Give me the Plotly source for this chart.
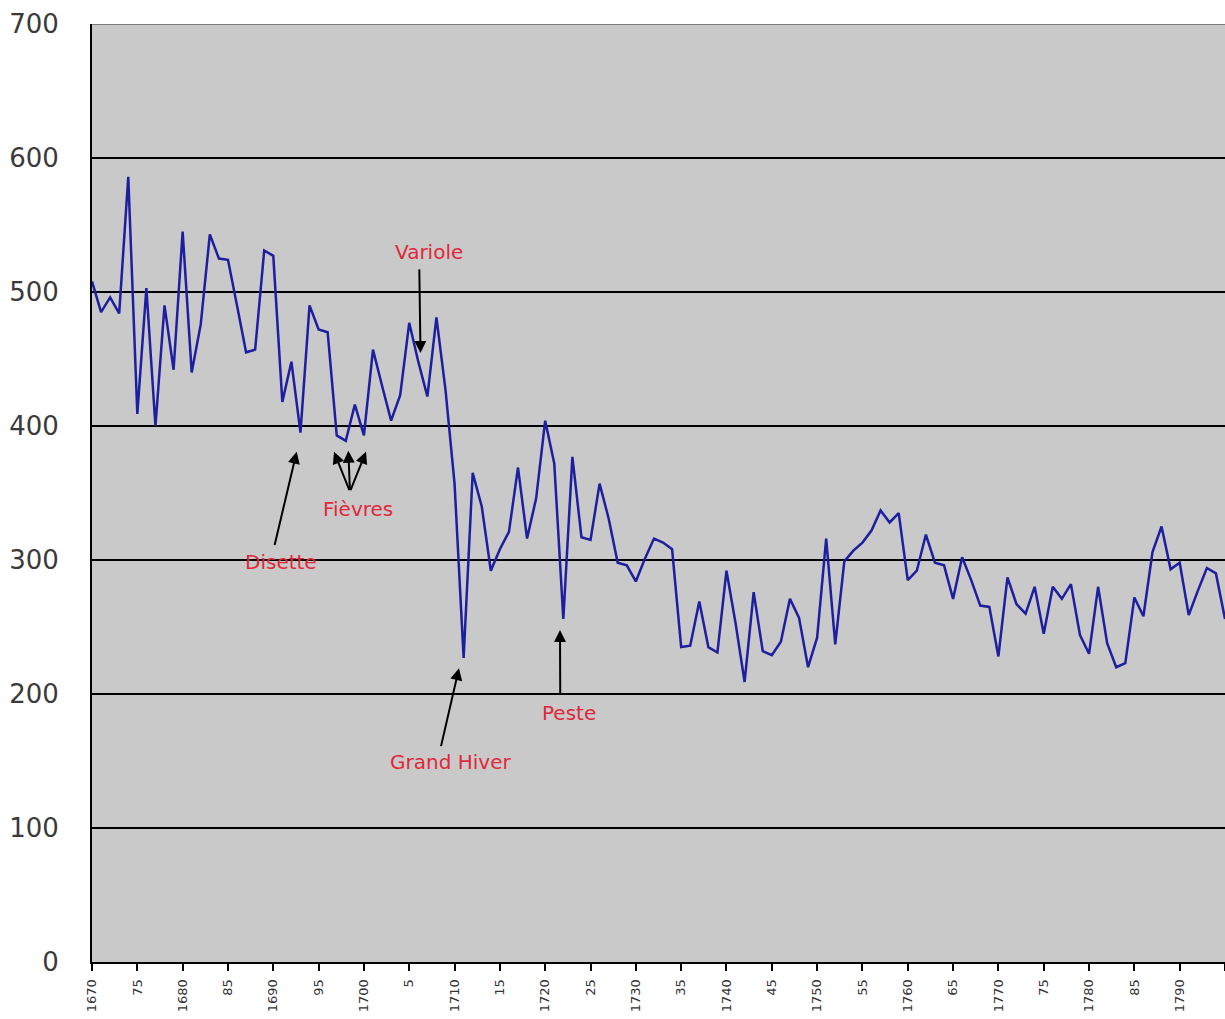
import plotly.graph_objects as go

years = list(range(1670, 1796))
values = [
    508, 485, 496, 484, 586, 409, 503, 400, 490, 442,   # 1670-1679
    545, 440, 476, 543, 525, 524, 490, 455, 457, 531,   # 1680-1689
    527, 418, 448, 395, 490, 472, 470, 393, 389, 416,   # 1690-1699
    393, 457, 430, 404, 423, 477, 448, 422, 481, 427,   # 1700-1709
    357, 227, 365, 340, 292, 308, 321, 369, 316, 346,   # 1710-1719
    404, 372, 256, 377, 317, 315, 357, 331, 298, 296,   # 1720-1729
    284, 301, 316, 313, 308, 235, 236, 269, 235, 231,   # 1730-1739
    292, 253, 209, 276, 232, 229, 239, 271, 257, 220,   # 1740-1749
    242, 316, 237, 299, 307, 313, 322, 337, 328, 335,   # 1750-1759
    285, 292, 319, 298, 296, 271, 302, 285, 266, 265,   # 1760-1769
    228, 287, 267, 260, 280, 245, 280, 271, 282, 244,   # 1770-1779
    230, 280, 238, 220, 223, 272, 258, 306, 325, 293,   # 1780-1789
    298, 259, 277, 294, 290, 256,                       # 1790-1795
]

tick_years = list(range(1670, 1796, 5))
tick_labels = ["1670", "75", "1680", "85", "1690", "95", "1700", "5", "1710", "15",
               "1720", "25", "1730", "35", "1740", "45", "1750", "55", "1760", "65",
               "1770", "75", "1780", "85", "1790", "95"]
y_ticks = [0, 100, 200, 300, 400, 500, 600, 700]

# annotation labels: (text, x, y)
labels = [
    ("Variole", 1707.2, 530),
    ("Fièvres", 1699.35, 338),
    ("Disette", 1690.8, 298.5),
    ("Grand Hiver", 1709.5, 149),
    ("Peste", 1722.6, 186),
]
# arrows: (tip_x, tip_y, tail_x, tail_y)
arrows = [
    (1706.24, 454.5, 1706.11, 518),
    (1692.58, 380.8, 1690.11, 310),
    (1696.7, 380.8, 1698.46, 351),
    (1698.28, 381.6, 1698.46, 351),
    (1700.23, 380.8, 1698.46, 351),
    (1710.49, 219.2, 1708.47, 160),
    (1721.63, 247.8, 1721.66, 199.5),
]

fig = go.Figure()
fig.add_trace(go.Scatter(
    x=years, y=values, mode="lines",
    line=dict(color="#1e1ea0", width=2.5),
    hoverinfo="skip", showlegend=False,
))

annotations = []
for text, x, y in labels:
    annotations.append(dict(
        x=x, y=y, xref="x", yref="y", text=text, showarrow=False,
        font=dict(family="DejaVu Sans", size=20, color="#e0283c"),
        xanchor="center", yanchor="middle",
    ))
for tx, ty, sx, sy in arrows:
    annotations.append(dict(
        x=tx, y=ty, xref="x", yref="y", ax=sx, ay=sy, axref="x", ayref="y",
        text="", showarrow=True, arrowhead=2, arrowsize=1.2, arrowwidth=2,
        arrowcolor="black", standoff=0, startstandoff=0,
    ))

fig.update_layout(
    width=1225, height=1019, autosize=False,
    margin=dict(l=92, r=0, t=24, b=57, pad=0),
    paper_bgcolor="white", plot_bgcolor="#c9c9c9",
    showlegend=False,
    annotations=annotations,
    shapes=[dict(type="line", xref="paper", yref="y", x0=0, x1=1, y0=700, y1=700,
                 line=dict(color="#7a7a7a", width=2))],
    xaxis=dict(
        range=[1670, 1795], tickmode="array", tickvals=tick_years, ticktext=tick_labels,
        tickangle=-90, ticks="outside", ticklen=7, tickwidth=2, tickcolor="black",
        showgrid=False, zeroline=False, showline=True, linecolor="black", linewidth=2,
        tickfont=dict(family="DejaVu Sans", size=13, color="#333333"),
        ticklabelstandoff=3, automargin=False,
    ),
    yaxis=dict(
        range=[0, 700], tickmode="array", tickvals=y_ticks,
        showgrid=True, gridcolor="black", gridwidth=2,
        zeroline=False, showline=True, linecolor="black", linewidth=2,
        ticks="", tickfont=dict(family="DejaVu Sans", size=26, color="#3a3a3a"),
        ticklabelstandoff=26, automargin=False,
    ),
)

fig.write_html("out.html", config={"displayModeBar": False},
               post_script="document.body.style.margin='0';document.body.style.overflow='hidden';")
